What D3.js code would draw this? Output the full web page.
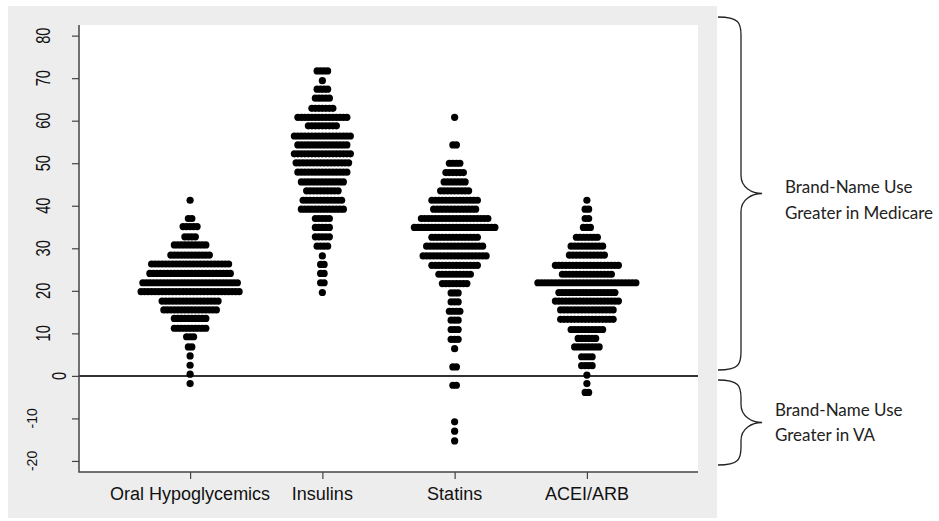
<!DOCTYPE html>
<html>
<head>
<meta charset="utf-8">
<script src="https://cdn.jsdelivr.net/npm/d3@7"></script>
<style>
  body { margin: 0; background: #fff; }
</style>
</head>
<body>
<script>
var width = 939;
var height = 521;

// group names, one row of dots per binned value
var groups = ["Oral Hypoglycemics", "Insulins", "Statins", "ACEI/ARB"];

var oralValues = [41.3, 37.0, 35.1, 32.7, 30.8, 28.4, 26.3, 24.1, 21.9, 19.8, 17.6, 15.5, 13.5, 11.2, 9.2, 6.8, 4.7, 2.5, 0.4, -1.8];
var oralCounts = [1, 2, 5, 4, 10, 12, 23, 24, 28, 29, 17, 16, 10, 10, 3, 2, 1, 1, 1, 1];

var insulinValues = [71.7, 69.4, 67.4, 65.3, 62.9, 60.8, 58.8, 56.4, 54.3, 52.2, 50.1, 47.9, 45.6, 43.5, 41.3, 39.2, 37.0, 34.9, 32.7, 30.5, 28.2, 26.2, 24.1, 21.9, 19.6];
var insulinCounts = [4, 1, 4, 5, 7, 15, 9, 17, 15, 17, 16, 15, 13, 10, 12, 13, 5, 5, 5, 4, 1, 2, 2, 2, 1];

var statinValues = [60.8, 54.3, 50.0, 47.8, 45.6, 43.5, 41.3, 39.2, 37.0, 34.9, 32.6, 30.5, 28.2, 26.0, 23.9, 21.7, 19.5, 17.4, 15.2, 13.1, 10.9, 8.6, 6.4, 2.1, -2.2, -10.8, -13.0, -15.3];
var statinCounts = [1, 2, 4, 6, 7, 9, 14, 13, 20, 24, 14, 17, 19, 14, 10, 8, 3, 3, 4, 3, 3, 3, 1, 2, 2, 1, 1, 1];

var aceValues = [41.3, 39.2, 37.0, 34.9, 32.6, 30.5, 28.4, 26.0, 23.9, 21.9, 19.6, 17.6, 15.5, 13.3, 10.9, 8.8, 6.8, 4.5, 2.4, 0.2, -1.8, -3.9];
var aceCounts = [1, 2, 2, 3, 7, 10, 11, 19, 15, 29, 17, 19, 16, 16, 10, 6, 8, 4, 4, 1, 1, 2];

var yTicks = [-20, -10, 0, 10, 20, 30, 40, 50, 60, 70, 80];

var svg = d3.select("body").append("svg")
    .attr("width", width)
    .attr("height", height);

// grey device background
svg.append("rect")
    .attr("x", 8).attr("y", 6)
    .attr("width", 709).attr("height", 512)
    .attr("fill", "#ededed");

var plotLeft = 79, plotRight = 698, plotTop = 25, plotBottom = 472;

var x = d3.scaleLinear().domain([0.16, 4.84]).range([plotLeft, plotRight]);
var y = d3.scaleLinear().domain([-22.6, 82.5]).range([plotBottom, plotTop]);

svg.append("rect")
    .attr("x", plotLeft).attr("y", plotTop)
    .attr("width", plotRight - plotLeft).attr("height", plotBottom - plotTop)
    .attr("fill", "#fff");

// reference line at zero
svg.append("line")
    .attr("x1", plotLeft).attr("x2", plotRight)
    .attr("y1", y(0)).attr("y2", y(0))
    .attr("stroke", "#333").attr("stroke-width", 2);

// expand rows into points
var series = [
  [oralValues, oralCounts],
  [insulinValues, insulinCounts],
  [statinValues, statinCounts],
  [aceValues, aceCounts]
];
var points = [];
series.forEach(function (s, g) {
  s[0].forEach(function (v, i) {
    var n = s[1][i];
    for (var j = 0; j < n; j++) {
      points.push({ group: g + 1, value: v, k: j - (n - 1) / 2 });
    }
  });
});

var step = 3.5;
svg.append("g").selectAll("circle")
    .data(points)
    .enter()
    .append("circle")
    .attr("cx", function (d) { return x(d.group) + d.k * step; })
    .attr("cy", function (d) { return y(d.value); })
    .attr("r", 3.6)
    .attr("fill", "#000");

// L-shaped box
svg.append("path")
    .attr("d", "M" + plotLeft + "," + plotTop + "V" + plotBottom + "H" + plotRight)
    .attr("fill", "none")
    .attr("stroke", "#444").attr("stroke-width", 1.5);

// y axis ticks
var yAxis = svg.append("g")
    .attr("transform", "translate(" + plotLeft + ",0)")
    .call(d3.axisLeft(y).tickValues(yTicks).tickSize(7).tickFormat(""));
yAxis.select(".domain").remove();
yAxis.selectAll("line").attr("stroke", "#444").attr("stroke-width", 1.2);

svg.append("g").selectAll("text")
    .data(yTicks)
    .enter()
    .append("text")
    .attr("transform", function (d) {
      if (d < 0) return "translate(31.5," + y(d) + ") rotate(-90)";
      var cx = d === 0 ? 58.5 : 43;
      return "translate(" + cx + "," + y(d) + ") scale(1.36,1) rotate(-90)";
    })
    .attr("text-anchor", "middle")
    .attr("dy", "0.36em")
    .attr("font-family", "Liberation Sans, Arial, sans-serif")
    .attr("font-size", function (d) { return d < 0 ? 14 : 14.6; })
    .attr("fill", "#111")
    .text(function (d) { return d; });

// x axis
var xAxis = svg.append("g")
    .attr("transform", "translate(0," + plotBottom + ")")
    .call(d3.axisBottom(x).tickValues([1, 2, 3, 4]).tickSize(7).tickFormat(""));
xAxis.select(".domain").remove();
xAxis.selectAll("line").attr("stroke", "#444").attr("stroke-width", 1.2);

svg.append("g").selectAll("text")
    .data(groups)
    .enter()
    .append("text")
    .attr("x", function (d, i) { return x(i + 1); })
    .attr("y", 494)
    .attr("dy", "0.36em")
    .attr("text-anchor", "middle")
    .attr("font-family", "Liberation Sans, Arial, sans-serif")
    .attr("font-size", 18)
    .attr("fill", "#111")
    .text(function (d) { return d; });

// braces on the right
function brace(y0, y1) {
  var xa = 718, xb = 741, xt = 762, ym = (y0 + y1) / 2;
  return "M" + xa + "," + y0 +
    " C" + (xb - 2) + "," + y0 + " " + xb + "," + (y0 + 6) + " " + xb + "," + (y0 + 18) +
    " V" + (ym - 18) +
    " C" + xb + "," + (ym - 6) + " " + (xt - 10) + "," + ym + " " + xt + "," + ym +
    " C" + (xt - 10) + "," + ym + " " + xb + "," + (ym + 6) + " " + xb + "," + (ym + 18) +
    " V" + (y1 - 18) +
    " C" + xb + "," + (y1 - 6) + " " + (xb - 2) + "," + y1 + " " + xa + "," + y1;
}
svg.append("path").attr("d", brace(17, 370))
    .attr("fill", "none").attr("stroke", "#222").attr("stroke-width", 1.3);
svg.append("path").attr("d", brace(380, 465))
    .attr("fill", "none").attr("stroke", "#222").attr("stroke-width", 1.3);

var notes = [
  { x: 785, y: 187, t: "Brand-Name Use" },
  { x: 785, y: 213, t: "Greater in Medicare" },
  { x: 775, y: 410, t: "Brand-Name Use" },
  { x: 775, y: 435, t: "Greater in VA" }
];
svg.append("g").selectAll("text")
    .data(notes)
    .enter()
    .append("text")
    .attr("x", function (d) { return d.x; })
    .attr("y", function (d) { return d.y; })
    .attr("dy", "0.36em")
    .attr("font-family", "Lato, sans-serif")
    .attr("font-size", 17)
    .attr("fill", "#222")
    .text(function (d) { return d.t; });
</script>
</body>
</html>
